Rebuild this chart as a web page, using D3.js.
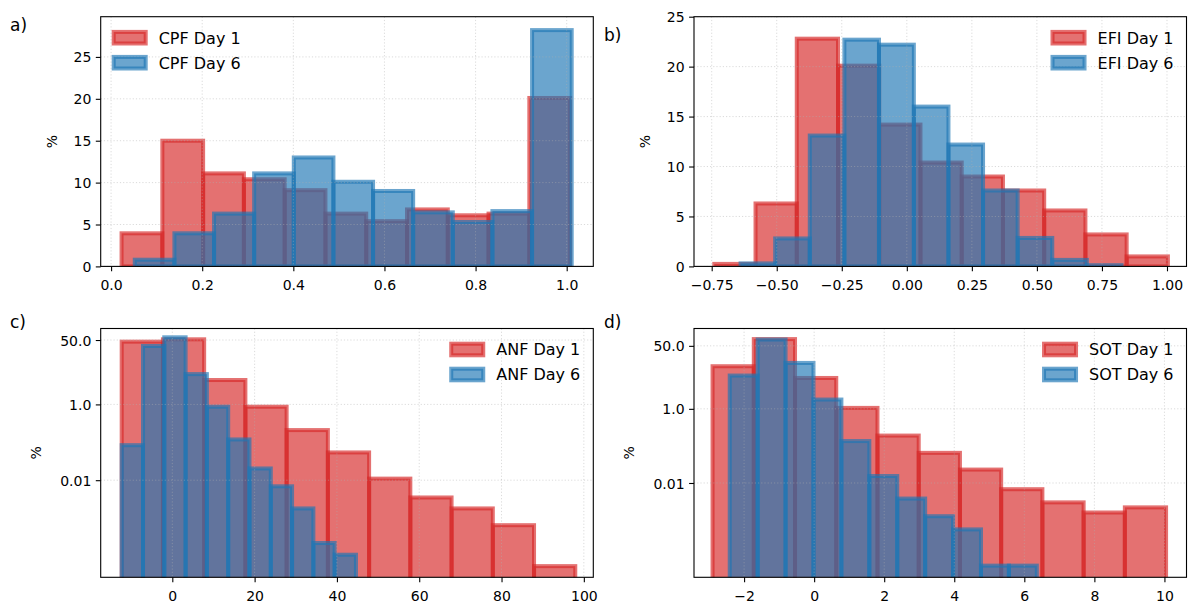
<!DOCTYPE html>
<html>
<head>
<meta charset="utf-8">
<script src="https://cdn.jsdelivr.net/npm/d3@7"></script>
<style>
  body { margin: 0; background: #fff; }
  svg { display: block; }
  text { font-family: "DejaVu Sans", sans-serif; fill: #000; }
</style>
</head>
<body>
<svg id="chart" width="1200" height="613"></svg>
<script>
// ---------------- DATA ----------------
// a) CPF
const cpfDay1Edges = [0.023, 0.1125, 0.202, 0.2915, 0.381, 0.4705, 0.560, 0.6495, 0.739, 0.8285, 0.918, 1.0075];
const cpfDay1Pct   = [3.95, 15.0, 11.1, 10.4, 9.1, 6.3, 5.4, 6.8, 6.1, 6.3, 20.1];
const cpfDay6Edges = [0.052, 0.139, 0.226, 0.314, 0.401, 0.488, 0.575, 0.663, 0.750, 0.837, 0.924, 1.011];
const cpfDay6Pct   = [0.8, 3.95, 6.3, 11.1, 13.0, 10.1, 9.0, 6.45, 5.3, 6.6, 28.2];
const cpfXTicks = [0.0, 0.2, 0.4, 0.6, 0.8, 1.0];
const cpfXTickLabels = ["0.0", "0.2", "0.4", "0.6", "0.8", "1.0"];
const cpfYTicks = [0, 5, 10, 15, 20, 25];
const cpfYTickLabels = ["0", "5", "10", "15", "20", "25"];

// b) EFI
const efiDay1Edges = [-0.740, -0.5815, -0.423, -0.2645, -0.106, 0.0525, 0.211, 0.3695, 0.528, 0.6865, 0.845, 1.0035];
const efiDay1Pct   = [0.25, 6.3, 22.8, 20.1, 14.2, 10.4, 9.0, 7.6, 5.6, 3.2, 1.0];
const efiDay6Edges = [-0.639, -0.506, -0.373, -0.240, -0.107, 0.027, 0.160, 0.293, 0.426, 0.559, 0.692, 0.825];
const efiDay6Pct   = [0.3, 2.8, 13.1, 22.7, 22.2, 16.0, 12.2, 7.6, 2.85, 0.65, 0.12];
const efiXTicks = [-0.75, -0.5, -0.25, 0, 0.25, 0.5, 0.75, 1.0];
const efiXTickLabels = ["\u22120.75", "\u22120.50", "\u22120.25", "0.00", "0.25", "0.50", "0.75", "1.00"];
const efiYTicks = [0, 5, 10, 15, 20, 25];
const efiYTickLabels = ["0", "5", "10", "15", "20", "25"];

// c) ANF (log y)
const anfDay1Edges = [-12.3, -2.28, 7.74, 17.76, 27.78, 37.8, 47.82, 57.84, 67.86, 77.88, 87.9, 97.92];
const anfDay1Pct   = [45.3, 52.2, 4.4, 0.87, 0.21, 0.054, 0.011, 0.0035, 0.0018, 0.00065, 0.000054];
const anfDay6Edges = [-12.3, -7.12, -1.95, 3.23, 8.4, 13.58, 18.75, 23.93, 29.1, 34.28, 39.45, 44.63];
const anfDay6Pct   = [0.084, 34.8, 59.0, 6.3, 0.87, 0.119, 0.0204, 0.0069, 0.0018, 0.00022, 0.000108];
const anfXTicks = [0, 20, 40, 60, 80, 100];
const anfXTickLabels = ["0", "20", "40", "60", "80", "100"];

// d) SOT (log y)
const sotDay1Edges = [-2.9, -1.723, -0.546, 0.631, 1.808, 2.985, 4.162, 5.339, 6.516, 7.693, 8.87, 10.047];
const sotDay1Pct   = [14.1, 76.0, 6.8, 1.06, 0.19, 0.065, 0.023, 0.0068, 0.0030, 0.0016, 0.0022];
const sotDay6Edges = [-2.41, -1.613, -0.816, -0.019, 0.778, 1.575, 2.372, 3.169, 3.966, 4.763, 5.56, 6.357];
const sotDay6Pct   = [7.9, 74.0, 17.3, 1.78, 0.135, 0.0154, 0.0038, 0.00127, 0.00056, 0.000059, 0.000059];
const sotXTicks = [-2, 0, 2, 4, 6, 8, 10];
const sotXTickLabels = ["\u22122", "0", "2", "4", "6", "8", "10"];

const logYTicks = [50, 1, 0.01];
const logYTickLabels = ["50.0", "1.0", "0.01"];

// ---------------- LAYOUT ----------------
const RED = "#d62728", BLUE = "#1f77b4";
const ALPHA = 0.66;

const panels = [
  { id: "a", label: "a)", labelPos: [10, 31], box: { l: 100.7, r: 593.3, t: 16.7, b: 266.4 },
    xDomain: [-0.0228, 1.0584], yDomain: [0, 29.8], log: false,
    xTicks: cpfXTicks, xTickLabels: cpfXTickLabels, yTicks: cpfYTicks, yTickLabels: cpfYTickLabels,
    series: [
      { name: "CPF Day 1", color: RED, edges: cpfDay1Edges, vals: cpfDay1Pct },
      { name: "CPF Day 6", color: BLUE, edges: cpfDay6Edges, vals: cpfDay6Pct }],
    legend: "left", ylabelX: 52 },
  { id: "b", label: "b)", labelPos: [604, 41], box: { l: 694, r: 1186.5, t: 16.7, b: 266.4 },
    xDomain: [-0.818, 1.075], yDomain: [0, 25], log: false,
    xTicks: efiXTicks, xTickLabels: efiXTickLabels, yTicks: efiYTicks, yTickLabels: efiYTickLabels,
    series: [
      { name: "EFI Day 1", color: RED, edges: efiDay1Edges, vals: efiDay1Pct },
      { name: "EFI Day 6", color: BLUE, edges: efiDay6Edges, vals: efiDay6Pct }],
    legend: "right", ylabelX: 644.5 },
  { id: "c", label: "c)", labelPos: [10, 328], box: { l: 100.7, r: 593.3, t: 328.5, b: 577.3 },
    xDomain: [-17.4, 102.3], yDomain: [2.74e-5, 100.7], log: true,
    xTicks: anfXTicks, xTickLabels: anfXTickLabels, yTicks: logYTicks, yTickLabels: logYTickLabels,
    series: [
      { name: "ANF Day 1", color: RED, edges: anfDay1Edges, vals: anfDay1Pct },
      { name: "ANF Day 6", color: BLUE, edges: anfDay6Edges, vals: anfDay6Pct }],
    legend: "right", ylabelX: 36 },
  { id: "d", label: "d)", labelPos: [604, 328], box: { l: 694, r: 1186.5, t: 328.5, b: 577.3 },
    xDomain: [-3.43, 10.63], yDomain: [2.86e-5, 146.8], log: true,
    xTicks: sotXTicks, xTickLabels: sotXTickLabels, yTicks: logYTicks, yTickLabels: logYTickLabels,
    series: [
      { name: "SOT Day 1", color: RED, edges: sotDay1Edges, vals: sotDay1Pct },
      { name: "SOT Day 6", color: BLUE, edges: sotDay6Edges, vals: sotDay6Pct }],
    legend: "right", ylabelX: 629 }
];

const svg = d3.select("#chart");
const defs = svg.append("defs");

panels.forEach(p => {
  const B = p.box;
  const x = d3.scaleLinear().domain(p.xDomain).range([B.l, B.r]);
  const y = (p.log ? d3.scaleLog() : d3.scaleLinear()).domain(p.yDomain).range([B.b, B.t]);

  defs.append("clipPath").attr("id", "clip-" + p.id)
    .append("rect").attr("x", B.l).attr("y", B.t).attr("width", B.r - B.l).attr("height", B.b - B.t);

  const g = svg.append("g");

  // bars
  const barsG = g.append("g").attr("clip-path", `url(#clip-${p.id})`);
  p.series.forEach(s => {
    const bins = s.vals.map((v, i) => ({ x0: s.edges[i], x1: s.edges[i + 1], v }));
    barsG.append("g").selectAll("rect").data(bins).join("rect")
      .attr("x", d => x(d.x0))
      .attr("width", d => x(d.x1) - x(d.x0))
      .attr("y", d => y(d.v))
      .attr("height", d => (p.log ? B.b + 10 : y(0)) - y(d.v))
      .attr("fill", s.color).attr("fill-opacity", ALPHA)
      .attr("stroke", s.color).attr("stroke-opacity", ALPHA)
      .attr("stroke-width", 4);
  });

  // grid (above bars, as matplotlib default)
  const gridG = g.append("g").attr("clip-path", `url(#clip-${p.id})`)
    .attr("stroke", "#b0b0b0").attr("stroke-opacity", 0.45)
    .attr("stroke-width", 1).attr("stroke-dasharray", "1.2,2");
  p.xTicks.forEach(t => {
    gridG.append("line").attr("x1", x(t)).attr("x2", x(t)).attr("y1", B.t).attr("y2", B.b);
  });
  p.yTicks.forEach(t => {
    gridG.append("line").attr("x1", B.l).attr("x2", B.r).attr("y1", y(t)).attr("y2", y(t));
  });

  // axes via d3
  const xAxis = d3.axisBottom(x).tickValues(p.xTicks)
    .tickFormat((d, i) => p.xTickLabels[i]).tickSizeInner(4.9).tickSizeOuter(0).tickPadding(4.5);
  const yAxis = d3.axisLeft(y).tickValues(p.yTicks)
    .tickFormat((d, i) => p.yTickLabels[i]).tickSizeInner(4.9).tickSizeOuter(0).tickPadding(4.5);

  const xg = g.append("g").attr("transform", `translate(0,${B.b})`).call(xAxis);
  const yg = g.append("g").attr("transform", `translate(${B.l},0)`).call(yAxis);
  [xg, yg].forEach(ax => {
    ax.select(".domain").remove();
    ax.selectAll(".tick line").attr("stroke", "#000").attr("stroke-width", 1.1);
    ax.selectAll(".tick text").attr("font-size", 14).attr("font-family", "DejaVu Sans").attr("fill", "#000");
  });
  xg.selectAll(".tick text").attr("dy", null).attr("y", 23.5 - 14 * 0 ).attr("dominant-baseline", "auto");
  yg.selectAll(".tick text").attr("dy", "0.36em");

  // frame
  g.append("rect").attr("x", B.l).attr("y", B.t).attr("width", B.r - B.l).attr("height", B.b - B.t)
    .attr("fill", "none").attr("stroke", "#000").attr("stroke-width", 1.1);

  // y label
  g.append("text").attr("transform", `translate(${p.ylabelX},${(B.t + B.b) / 2}) rotate(-90)`)
    .attr("text-anchor", "middle").attr("dominant-baseline", "central")
    .attr("font-size", 14).text("%");

  // panel label
  g.append("text").attr("x", p.labelPos[0]).attr("y", p.labelPos[1]).attr("font-size", 17).text(p.label);

  // legend
  const lg = g.append("g");
  const texts = p.series.map((s, i) => lg.append("text").attr("font-size", 16)
    .attr("y", B.t + 21 + 25 * i + 5.8).text(s.name));
  const maxW = d3.max(texts, t => t.node().getComputedTextLength());
  let textX, patchX;
  if (p.legend === "left") {
    patchX = B.l + 13;
    textX = patchX + 32 + 13;
  } else {
    textX = B.r - 13 - maxW;
    patchX = textX - 13 - 32;
  }
  texts.forEach(t => t.attr("x", textX));
  p.series.forEach((s, i) => {
    lg.append("rect").attr("x", patchX).attr("y", B.t + 21 + 25 * i - 5.8)
      .attr("width", 32).attr("height", 11.6)
      .attr("fill", s.color).attr("fill-opacity", ALPHA)
      .attr("stroke", s.color).attr("stroke-opacity", ALPHA).attr("stroke-width", 4);
  });
});
</script>
</body>
</html>
